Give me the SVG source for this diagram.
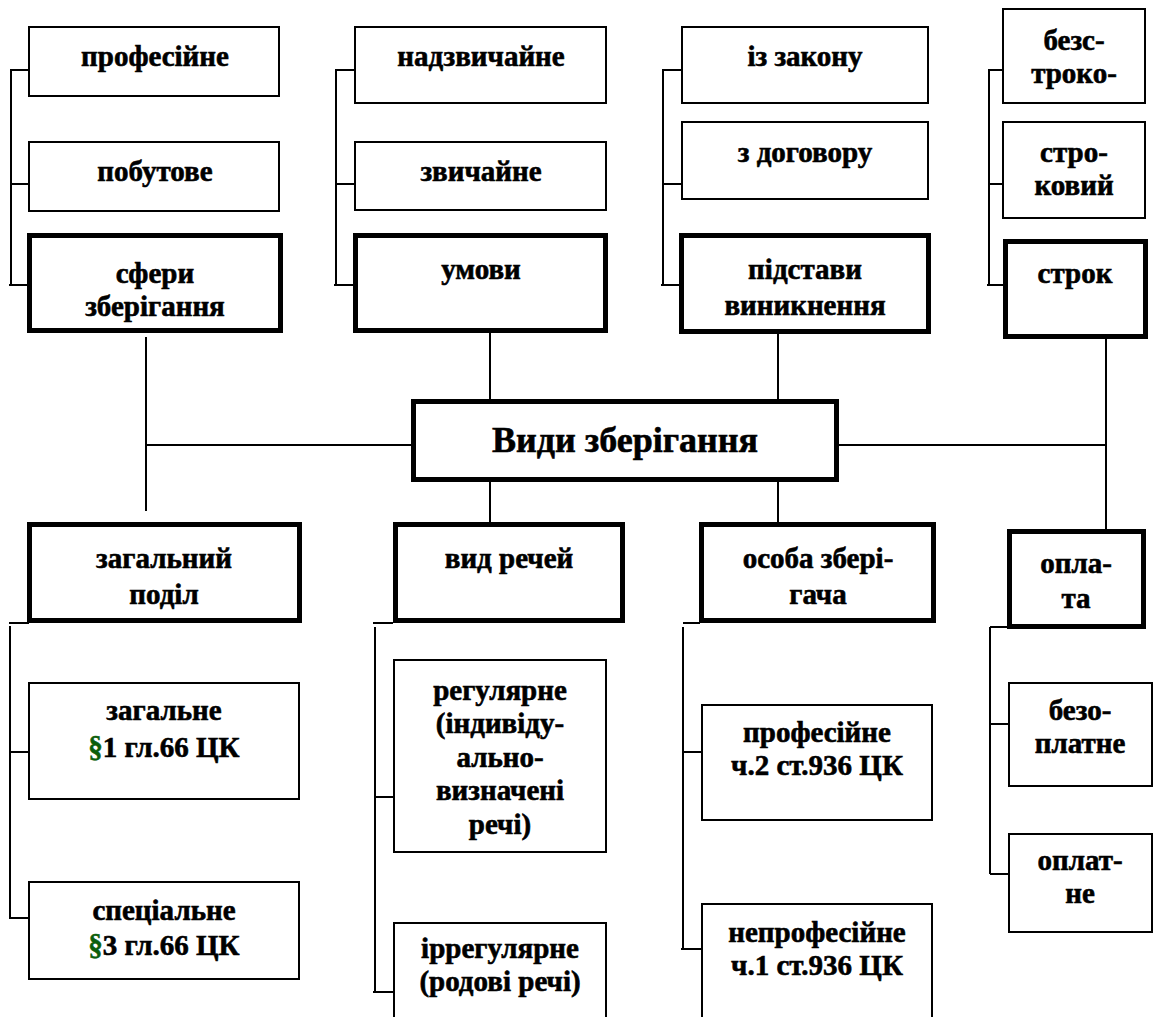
<svg xmlns="http://www.w3.org/2000/svg" width="1160" height="1017" viewBox="0 0 1160 1017">
<style>
.t{fill:#fff;stroke:#000;stroke-width:2}
.k{fill:#fff;stroke:#000;stroke-width:5}
.l{fill:none;stroke:#000;stroke-width:2}
text{font-family:"Liberation Serif","Times New Roman",serif;font-weight:bold;font-size:29px;text-anchor:middle;fill:#000;stroke:#000;stroke-width:0.6}
.m{font-size:36px}
.g{fill:#0b5e0b;stroke:#0b5e0b}
</style>
<rect width="1160" height="1017" fill="#fff"/>
<g id="connectors">
<path class="l" d="M29,70H11V285M9,285H29M11,184H29"/>
<path class="l" d="M355,70H336V285M334,285H355M336,184H355"/>
<path class="l" d="M682,70H663V285M661,285H680M663,184H682"/>
<path class="l" d="M1003,70H989V285M987,285H1005M989,184H1003"/>
<path class="l" d="M146,337V511M146,445H411"/>
<path class="l" d="M490,333V399M778,334V399M490,482V522M778,482V522"/>
<path class="l" d="M839,445H1106M1106,339V529"/>
<path class="l" d="M9,623H29M10,626V918M10,752H29M9,918H29"/>
<path class="l" d="M373,623H393M375,627V992M375,797H394M373,992H394"/>
<path class="l" d="M683,623H700M683,627V950M683,752H702M681,949H702"/>
<path class="l" d="M990,627H1009M990,627V874M990,724H1009M990,874H1009"/>
</g>
<g id="n-profesiine-top"><rect class="t" x="29" y="27" width="250" height="69"/><text x="155" y="66">професійне</text></g>
<g id="n-pobutove"><rect class="t" x="29" y="142" width="250" height="69"/><text x="155" y="181">побутове</text></g>
<g id="n-sfery"><rect class="k" x="29.5" y="235.5" width="251" height="95"/><text x="155" y="283">сфери</text><text x="155" y="316">зберігання</text></g>
<g id="n-nadzvychaine"><rect class="t" x="355" y="27" width="251" height="76"/><text x="481" y="66">надзвичайне</text></g>
<g id="n-zvychaine"><rect class="t" x="355" y="142" width="251" height="68"/><text x="481" y="181">звичайне</text></g>
<g id="n-umovy"><rect class="k" x="355.5" y="235.5" width="250" height="95"/><text x="481" y="279">умови</text></g>
<g id="n-iz-zakonu"><rect class="t" x="682" y="27" width="246" height="76"/><text x="805" y="66">із закону</text></g>
<g id="n-z-dogovoru"><rect class="t" x="682" y="122" width="246" height="77"/><text x="805" y="162">з договору</text></g>
<g id="n-pidstavy"><rect class="k" x="681.5" y="235.5" width="247" height="96"/><text x="805" y="279">підстави</text><text x="805" y="315">виникнення</text></g>
<g id="n-bezstrokovyi"><rect class="t" x="1003" y="9" width="142" height="94"/><text x="1074" y="50">безс-</text><text x="1074" y="83">троко-</text></g>
<g id="n-strokovyi"><rect class="t" x="1003" y="122" width="142" height="96"/><text x="1074" y="162">стро-</text><text x="1074" y="195">ковий</text></g>
<g id="n-strok"><rect class="k" x="1005.5" y="241.5" width="140" height="95"/><text x="1075" y="283">строк</text></g>
<g id="n-main"><rect class="k" x="413.5" y="401.5" width="423" height="78"/><text class="m" x="625" y="452">Види зберігання</text></g>
<g id="n-zagalnyi"><rect class="k" x="29.5" y="524.5" width="270" height="96"/><text x="164" y="568">загальний</text><text x="164" y="604">поділ</text></g>
<g id="n-vyd-rechei"><rect class="k" x="395.5" y="524.5" width="227" height="96"/><text x="509" y="568">вид речей</text></g>
<g id="n-osoba"><rect class="k" x="701.5" y="524.5" width="232" height="96"/><text x="818" y="568">особа збері-</text><text x="818" y="604">гача</text></g>
<g id="n-oplata"><rect class="k" x="1009.5" y="531.5" width="134" height="95"/><text x="1076" y="573">опла-</text><text x="1076" y="608">та</text></g>
<g id="n-zagalne"><rect class="t" x="29" y="683" width="270" height="116"/><text x="164" y="720">загальне</text><text x="164" y="757"><tspan class="g">§</tspan>1 гл.66 ЦК</text></g>
<g id="n-spetsialne"><rect class="t" x="29" y="882" width="270" height="97"/><text x="164" y="920">спеціальне</text><text x="164" y="955"><tspan class="g">§</tspan>3 гл.66 ЦК</text></g>
<g id="n-rehuliarne"><rect class="t" x="394" y="660" width="212" height="192"/><text x="500" y="700">регулярне</text><text x="500" y="733">(індивіду-</text><text x="500" y="767">ально-</text><text x="500" y="800">визначені</text><text x="500" y="834">речі)</text></g>
<g id="n-irrehuliarne"><rect class="t" x="394" y="923" width="212" height="110"/><text x="500" y="958">іррегулярне</text><text x="500" y="991">(родові речі)</text></g>
<g id="n-profesiine-bottom"><rect class="t" x="702" y="705" width="230" height="115"/><text x="817" y="742">професійне</text><text x="817" y="775">ч.2 ст.936 ЦК</text></g>
<g id="n-neprofesiine"><rect class="t" x="702" y="904" width="230" height="130"/><text x="817" y="942">непрофесійне</text><text x="817" y="975">ч.1 ст.936 ЦК</text></g>
<g id="n-bezoplatne"><rect class="t" x="1009" y="683" width="143" height="103"/><text x="1080" y="720">безо-</text><text x="1080" y="753">платне</text></g>
<g id="n-oplatne"><rect class="t" x="1009" y="834" width="143" height="98"/><text x="1080" y="870">оплат-</text><text x="1080" y="903">не</text></g>
</svg>
